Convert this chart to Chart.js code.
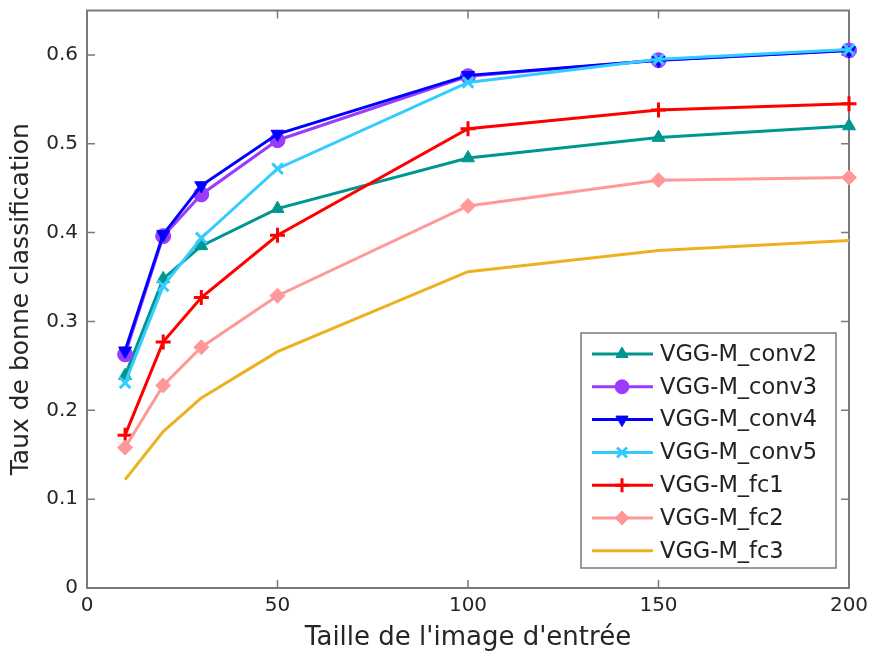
<!DOCTYPE html>
<html lang="fr">
<head>
    <meta charset="UTF-8">
    <title>Taux de bonne classification</title>
    <style>
        body { margin: 0; background: #fff; }
        #wrap { position: relative; width: 871px; height: 654px; }
    </style>
    <script src="https://cdn.jsdelivr.net/npm/chart.js"></script>
</head>
<body>
    <div id="wrap"><canvas id="chart" width="871" height="654"></canvas></div>

    <script>
        // Data
        const sizes = [10, 20, 30, 50, 100, 150, 200];
        const conv2 = [0.239, 0.348, 0.385, 0.427, 0.484, 0.507, 0.520];
        const conv3 = [0.263, 0.396, 0.443, 0.504, 0.576, 0.594, 0.605];
        const conv4 = [0.267, 0.398, 0.453, 0.511, 0.577, 0.594, 0.605];
        const conv5 = [0.231, 0.340, 0.394, 0.472, 0.569, 0.595, 0.606];
        const fc1 = [0.172, 0.277, 0.327, 0.397, 0.517, 0.538, 0.545];
        const fc2 = [0.158, 0.228, 0.271, 0.329, 0.430, 0.459, 0.462];
        const fc3 = [0.122, 0.176, 0.214, 0.266, 0.356, 0.380, 0.391];
        const xTicks = [0, 50, 100, 150, 200];
        const yTicks = [0, 0.1, 0.2, 0.3, 0.4, 0.5, 0.6];

        const FONT = 'DejaVu Sans';
        const AXIS = '#7a7a7a';

        const series = [
            { label: 'VGG-M_conv2', data: conv2, color: '#009690', style: 'triangle', rot: 0 },
            { label: 'VGG-M_conv3', data: conv3, color: '#9b3bff', style: 'circle', rot: 0 },
            { label: 'VGG-M_conv4', data: conv4, color: '#0000ff', style: 'triangle', rot: 180 },
            { label: 'VGG-M_conv5', data: conv5, color: '#33ccff', style: 'crossRot', rot: 0 },
            { label: 'VGG-M_fc1', data: fc1, color: '#ff0000', style: 'cross', rot: 0 },
            { label: 'VGG-M_fc2', data: fc2, color: '#ff9999', style: 'rectRot', rot: 0 },
            { label: 'VGG-M_fc3', data: fc3, color: '#edb120', style: false, rot: 0 }
        ];

        const datasets = series.map((s, i) => ({
            label: s.label,
            data: sizes.map((x, j) => ({ x: x, y: s.data[j] })),
            borderColor: s.color,
            backgroundColor: s.color,
            borderWidth: 3,
            pointStyle: s.style,
            pointRotation: s.rot,
            pointRadius: s.style ? 7.5 : 0,
            pointBorderWidth: (s.style === 'cross' || s.style === 'crossRot') ? 3 : 1,
            order: series.length - i,
            clip: false,
            tension: 0
        }));

        // MATLAB-like box with inward ticks
        const boxPlugin = {
            id: 'box',
            beforeDatasetsDraw(chart) {
                const { ctx, chartArea: a, scales } = chart;
                ctx.save();
                ctx.strokeStyle = AXIS;
                ctx.lineWidth = 2;
                ctx.strokeRect(a.left, a.top, a.right - a.left, a.bottom - a.top);
                ctx.lineWidth = 1.5;
                ctx.beginPath();
                xTicks.forEach(v => {
                    const x = scales.x.getPixelForValue(v);
                    ctx.moveTo(x, a.bottom); ctx.lineTo(x, a.bottom - 8);
                    ctx.moveTo(x, a.top); ctx.lineTo(x, a.top + 8);
                });
                yTicks.forEach(v => {
                    const y = scales.y.getPixelForValue(v);
                    ctx.moveTo(a.left, y); ctx.lineTo(a.left + 8, y);
                    ctx.moveTo(a.right, y); ctx.lineTo(a.right - 8, y);
                });
                ctx.stroke();
                ctx.restore();
            }
        };

        // legend box inside the axes, lower right
        const legendPlugin = {
            id: 'boxLegend',
            afterDraw(chart) {
                const ctx = chart.ctx;
                const x0 = 581, y0 = 333, w = 255, h = 235, rowH = 32.8;
                ctx.save();
                ctx.fillStyle = '#fff';
                ctx.fillRect(x0, y0, w, h);
                ctx.strokeStyle = AXIS;
                ctx.lineWidth = 1.5;
                ctx.strokeRect(x0, y0, w, h);
                ctx.font = '22.5px "' + FONT + '"';
                ctx.textBaseline = 'middle';
                chart.data.datasets.forEach((ds, i) => {
                    const y = y0 + 21 + i * rowH;
                    ctx.strokeStyle = ds.borderColor;
                    ctx.lineWidth = 3;
                    ctx.beginPath();
                    ctx.moveTo(x0 + 11, y);
                    ctx.lineTo(x0 + 72, y);
                    ctx.stroke();
                    if (ds.pointStyle) {
                        ctx.fillStyle = ds.borderColor;
                        ctx.lineWidth = ds.pointBorderWidth;
                        Chart.helpers.drawPoint(ctx, {
                            pointStyle: ds.pointStyle,
                            rotation: ds.pointRotation,
                            radius: 7,
                            borderWidth: ds.pointBorderWidth
                        }, x0 + 41, y);
                    }
                    ctx.fillStyle = '#222';
                    ctx.fillText(ds.label, x0 + 79, y + 1);
                });
                ctx.restore();
            }
        };

        new Chart(document.getElementById('chart'), {
            type: 'line',
            data: { datasets: datasets },
            options: {
                responsive: false,
                animation: false,
                layout: { padding: { left: 0, right: 22, top: 8, bottom: 0 } },
                plugins: {
                    legend: { display: false },
                    tooltip: { enabled: false }
                },
                scales: {
                    x: {
                        type: 'linear',
                        min: 0,
                        max: 200,
                        afterFit(scale) {
                            scale.height = 66;
                            scale.paddingLeft = 0;
                            scale.paddingRight = 0;
                        },
                        afterBuildTicks(scale) { scale.ticks = xTicks.map(v => ({ value: v })); },
                        grid: { display: false, drawTicks: false },
                        border: { display: false },
                        ticks: {
                            padding: 6,
                            color: '#262626',
                            font: { family: FONT, size: 20 }
                        },
                        title: {
                            display: true,
                            text: "Taille de l'image d'entrée",
                            color: '#262626',
                            font: { family: FONT, size: 26 },
                            padding: { top: -2, bottom: 0 }
                        }
                    },
                    y: {
                        type: 'linear',
                        min: 0,
                        max: 0.65,
                        afterFit(scale) {
                            scale.width = 87;
                            scale.paddingTop = 0;
                            scale.paddingBottom = 0;
                        },
                        afterBuildTicks(scale) { scale.ticks = yTicks.map(v => ({ value: v })); },
                        grid: { display: false, drawTicks: false },
                        border: { display: false },
                        ticks: {
                            padding: 9,
                            color: '#262626',
                            font: { family: FONT, size: 20 },
                            callback: v => String(+v.toFixed(1))
                        },
                        title: {
                            display: true,
                            text: 'Taux de bonne classification',
                            color: '#262626',
                            font: { family: FONT, size: 25 },
                            padding: { top: 6, bottom: 0 }
                        }
                    }
                }
            },
            plugins: [boxPlugin, legendPlugin]
        });
    </script>
</body>
</html>
